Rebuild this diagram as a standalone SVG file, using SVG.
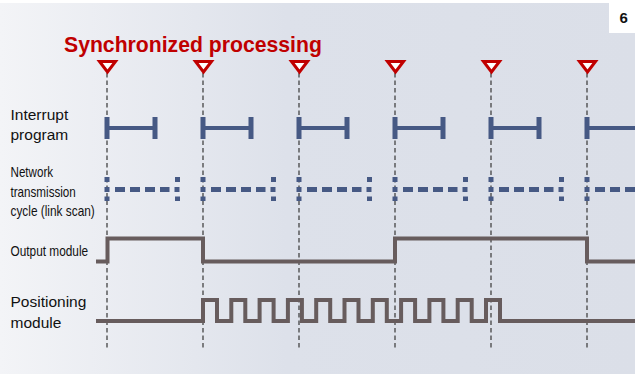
<svg xmlns="http://www.w3.org/2000/svg" xmlns:xlink="http://www.w3.org/1999/xlink" width="635" height="374" viewBox="0 0 635 374">
<defs>
<linearGradient id="bg" x1="0" y1="0" x2="1" y2="0">
<stop offset="0" stop-color="#f3f4f7"/>
<stop offset="0.45" stop-color="#dde1ea"/>
<stop offset="1" stop-color="#dbdfe8"/>
</linearGradient>
<polygon id="tri" points="-8,61.5 8,61.5 0,72" fill="#ffffff" stroke="#c00000" stroke-width="3" stroke-linejoin="miter"/>
<g id="intr" fill="#465984">
<rect x="-2.5" y="117" width="5" height="22"/>
<rect x="45.5" y="117" width="5" height="22"/>
<rect x="0" y="126" width="48" height="4"/>
</g>
<g id="nmark" fill="#465984">
<rect x="-2.5" y="177" width="5" height="5"/>
<rect x="-2.5" y="196.5" width="5" height="4.5"/>
</g>
<path id="ndash" d="M-2.5 189.5 H72.5" fill="none" stroke="#465984" stroke-width="5" stroke-dasharray="5 5.5 10 5 10 5 10 5 9.5 5 5"/>
</defs>
<style>
.lbl{font-family:"Liberation Sans",Arial,sans-serif;font-size:15.5px;fill:#111111}
.lblc{font-family:"Liberation Sans",Arial,sans-serif;font-size:14.5px;fill:#111111}
.title{font-family:"Liberation Sans",Arial,sans-serif;font-size:21.2px;font-weight:bold;fill:#c00000}
.grid{stroke:#444444;stroke-width:1.3;stroke-dasharray:4.5 3;fill:none}
.wave{fill:none;stroke:#675c5d;stroke-width:4;stroke-linejoin:miter}
</style>
<rect x="0" y="0" width="635" height="374" fill="#ffffff"/>
<rect x="0" y="3" width="635" height="371" fill="url(#bg)"/>
<g id="page-number">
<rect x="609" y="0" width="26" height="33" fill="#ffffff"/>
<text x="619.5" y="23.3" style="font-family:'Liberation Sans',Arial,sans-serif;font-size:15px;font-weight:bold;fill:#111111">6</text>
</g>
<g id="title">
<text class="title" x="64" y="52">Synchronized processing</text>
</g>
<g id="labels">
<text class="lbl" x="10.5" y="120">Interrupt</text>
<text class="lbl" x="10.5" y="139.5">program</text>
<text class="lblc" x="10.5" y="177" textLength="42.6" lengthAdjust="spacingAndGlyphs">Network</text>
<text class="lblc" x="10.5" y="196.7" textLength="65.3" lengthAdjust="spacingAndGlyphs">transmission</text>
<text class="lblc" x="10.5" y="216" textLength="84.3" lengthAdjust="spacingAndGlyphs">cycle (link scan)</text>
<text class="lblc" x="10.5" y="255.5" textLength="77.6" lengthAdjust="spacingAndGlyphs">Output module</text>
<text class="lbl" x="10.5" y="306.7">Positioning</text>
<text class="lbl" x="10.5" y="327.5">module</text>
</g>
<g id="connectors">
<path class="grid" d="M107 73 V349 M203 73 V349 M299 73 V349 M395 73 V349 M491 73 V349 M587 73 V349"/>
</g>
<g id="sync-markers">
<use xlink:href="#tri" x="107.5" y="0"/>
<use xlink:href="#tri" x="203.5" y="0"/>
<use xlink:href="#tri" x="299.5" y="0"/>
<use xlink:href="#tri" x="395.5" y="0"/>
<use xlink:href="#tri" x="491.5" y="0"/>
<use xlink:href="#tri" x="587.5" y="0"/>
</g>
<g id="interrupt-program">
<use xlink:href="#intr" x="107" y="0"/>
<use xlink:href="#intr" x="203" y="0"/>
<use xlink:href="#intr" x="299" y="0"/>
<use xlink:href="#intr" x="395" y="0"/>
<use xlink:href="#intr" x="491" y="0"/>
<rect x="584.5" y="117" width="5" height="22" fill="#465984"/>
<rect x="587" y="126" width="48" height="4" fill="#465984"/>
</g>
<g id="network-cycle">
<use xlink:href="#nmark" x="107" y="0"/><use xlink:href="#nmark" x="177.5" y="0"/><use xlink:href="#ndash" x="107" y="0"/>
<use xlink:href="#nmark" x="203" y="0"/><use xlink:href="#nmark" x="273.5" y="0"/><use xlink:href="#ndash" x="203" y="0"/>
<use xlink:href="#nmark" x="299" y="0"/><use xlink:href="#nmark" x="369.5" y="0"/><use xlink:href="#ndash" x="299" y="0"/>
<use xlink:href="#nmark" x="395" y="0"/><use xlink:href="#nmark" x="465.5" y="0"/><use xlink:href="#ndash" x="395" y="0"/>
<use xlink:href="#nmark" x="491" y="0"/><use xlink:href="#nmark" x="561.5" y="0"/><use xlink:href="#ndash" x="491" y="0"/>
<use xlink:href="#nmark" x="587" y="0"/><use xlink:href="#ndash" x="587" y="0"/>
</g>
<g id="output-module">
<path class="wave" d="M96 261.5 H107.5 V238.5 H203 V261.5 H395 V238.5 H587 V261.5 H640"/>
</g>
<g id="positioning-module">
<path class="wave" d="M96 321 H203 V300 H217 V321 H231.3 V300 H245.3 V321 H259.6 V300 H273.6 V321 H287.9 V300 H301.9 V321 H316.2 V300 H330.2 V321 H344.5 V300 H358.5 V321 H372.8 V300 H386.8 V321 H401.1 V300 H415.1 V321 H429.4 V300 H443.4 V321 H457.7 V300 H471.7 V321 H486 V300 H500 V321 H640"/>
</g>
</svg>
